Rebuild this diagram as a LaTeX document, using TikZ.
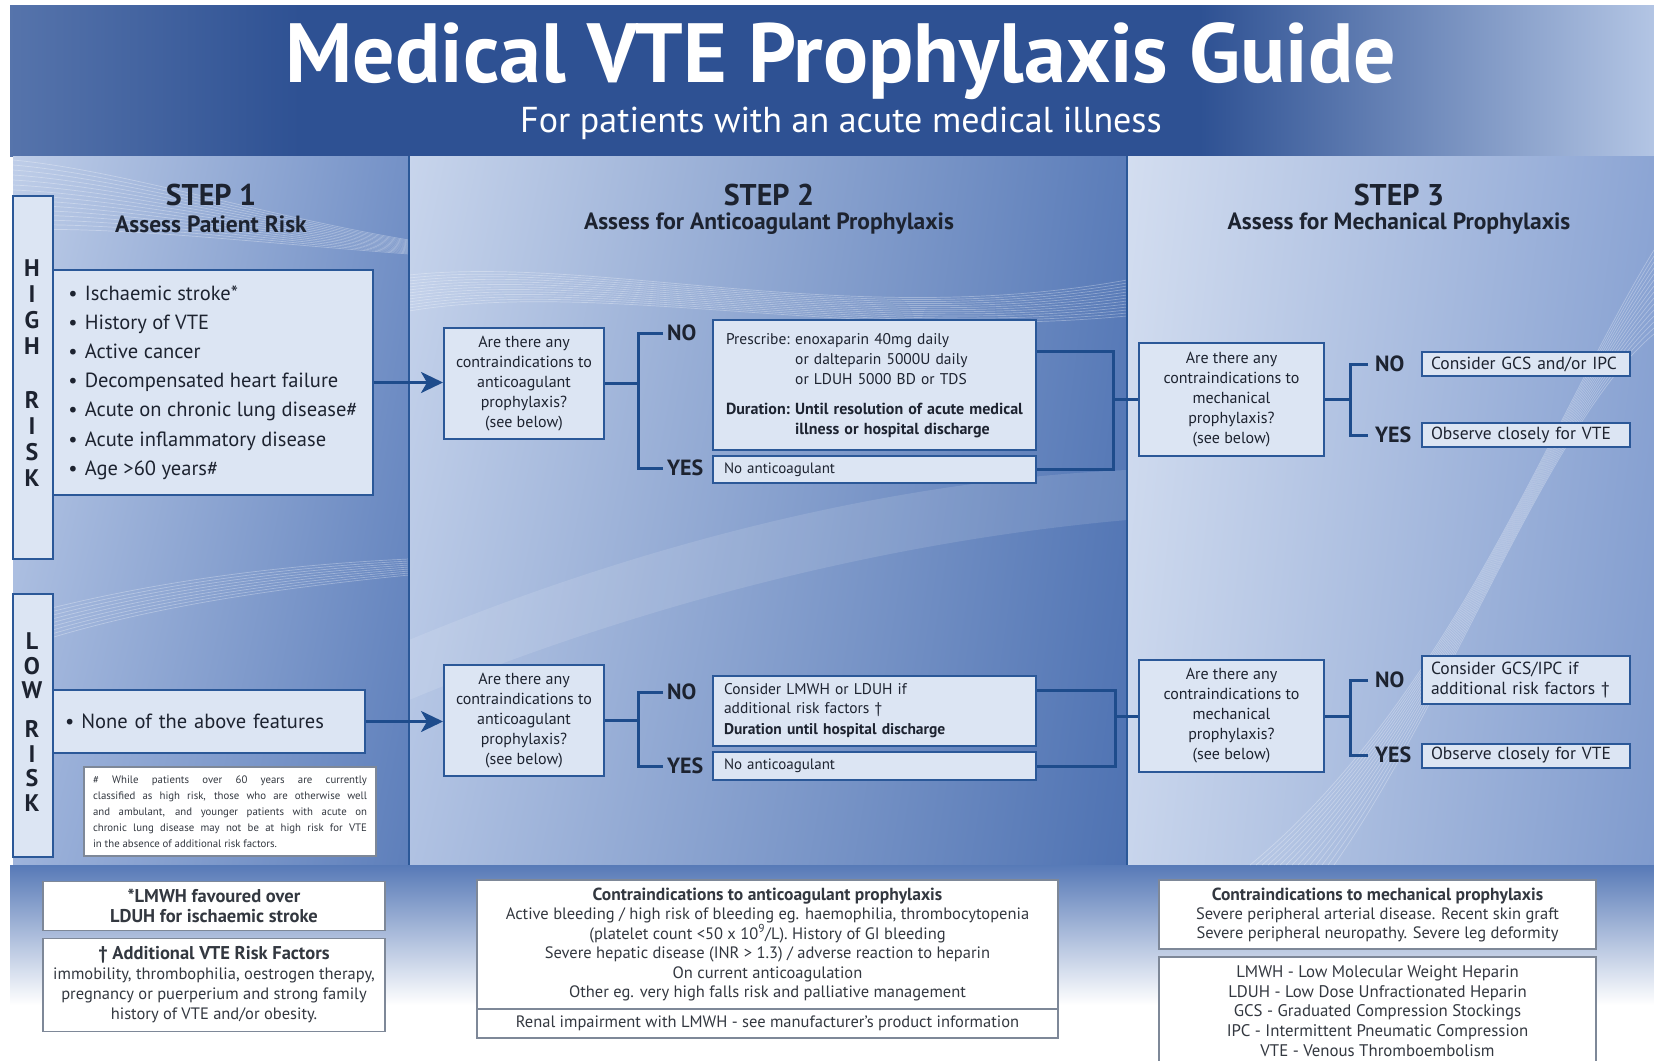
\documentclass[tikz,border=0pt]{standalone}
\usepackage{fontspec}
\setmainfont{PT Sans}
\usepackage{tikz}
\usetikzlibrary{arrows.meta,positioning,calc,shadings}

\definecolor{bannerblue}{HTML}{2E5193}
\definecolor{bannerlight}{HTML}{B3C5E4}
\definecolor{panlight}{HTML}{C8D5EC}
\definecolor{panmid}{HTML}{8CA5D4}
\definecolor{pandark}{HTML}{4E72B2}
\definecolor{boxfill}{HTML}{DCE5F3}
\definecolor{boxline}{HTML}{2B5898}
\definecolor{connblue}{HTML}{1E4C8C}
\definecolor{inktext}{HTML}{1D2330}
\definecolor{notetext}{HTML}{333840}
\definecolor{noteline}{HTML}{7E8898}

\newcommand\fsz[2]{\fontsize{#1}{#2}\selectfont}

\begin{document}
\begin{tikzpicture}[x=1pt,y=-1pt,
  stepbox/.style={draw=boxline,line width=2pt,fill=boxfill,text=inktext,inner sep=0pt,align=center},
  listbox/.style={stepbox,align=left,inner xsep=14pt},
  notebox/.style={draw=noteline,line width=1.5pt,fill=white,text=notetext,inner sep=0pt,align=center},
  riskbar/.style={draw=boxline,line width=2pt,fill=boxfill,inner sep=0pt},
  riskltr/.style={text=inktext,inner sep=0pt,align=center},
  conn/.style={draw=connblue,line width=3pt},
  arr/.style={conn,-{Stealth[length=22pt,width=21pt,inset=6pt]}},
  yn/.style={text=inktext,font=\bfseries\fsz{22}{24},inner xsep=4pt,inner ysep=0pt,anchor=west},
  hdr/.style={text=inktext,align=center,inner sep=0pt},
  wave/.style={white,line width=0.7pt,opacity=0.3}]
%Rahmen: Spalten und Zeilen des Plakats (in px des Vorbilds)
  \pgfmathsetmacro{\xA}{409}
  \pgfmathsetmacro{\xB}{1127}
  \pgfmathsetmacro{\yT}{156}
  \pgfmathsetmacro{\yB}{865}
\useasboundingbox (0,0) rectangle (1654,1060);
\fill[white] (0,0) rectangle (1654,1060);
% banner
\fill[bannerblue] (10,5) rectangle (1654,\yT);
\shade[left color=bannerblue!70!bannerlight,right color=bannerblue] (10,5) rectangle (300,\yT);
\shade[left color=bannerblue,right color=bannerlight] (1200,5) rectangle (1654,\yT);
% panels
\shade[upper left=panlight!85!panmid,upper right=panmid!60!pandark,lower left=panmid!70!panlight,lower right=pandark!75!panmid] (13,\yT) rectangle (\xA,\yB);
\shade[upper left=panlight,upper right=pandark!80!panmid,lower left=panlight!60!panmid,lower right=pandark] (\xA,\yT) rectangle (\xB,\yB);
\shade[upper left=panlight!80!white,upper right=panmid,lower left=panlight,lower right=panmid!80!pandark] (\xB,\yT) rectangle (1654,\yB);
\shade[top color=pandark!85!panmid,bottom color=white] (10,\yB) rectangle (1654,1005);
% swooshes
\begin{scope}
\clip (13,\yT) rectangle (1654,\yB);
\foreach \k in {0,...,14}
  \draw[wave] (13,160+5*\k) .. controls (120,170+4*\k) and (260,215+2*\k) .. (\xA,240+\k);
\foreach \k in {0,...,8}
  \draw[wave] (13,650-4*\k) .. controls (130,610-3*\k) and (260,590-3*\k) .. (\xA,575-2*\k);
\foreach \k in {0,...,12}
  \draw[wave] (\xA,275+3*\k) .. controls (600,255+2*\k) and (850,330+\k) .. (\xB,280+3*\k);
\fill[white,opacity=0.12] (\xA,640) .. controls (650,540) and (900,480) .. (\xB,470) -- (\xB,520) .. controls (900,540) and (650,600) .. (\xA,700) -- cycle;
\foreach \k in {0,...,14}
  \draw[wave] (1250+6*\k,\yB) .. controls (1450,700) and (1550,420) .. (1654,250+6*\k);
\end{scope}
\draw[boxline,line width=1.5pt] (\xA,\yT) -- (\xA,\yB) (\xB,\yT) -- (\xB,\yB);

% title
\node[text=white,inner sep=0pt,font=\bfseries\fsz{84}{90}] (title) at (841,61) {Medical VTE Prophylaxis Guide};
\node[text=white,inner sep=0pt,font=\fsz{36}{40}] (subtitle) at (841,123) {For patients with an acute medical illness};

% headers
\node[hdr,font=\bfseries\fsz{30}{32}] (s1) at (211,195) {STEP 1};
\node[hdr,font=\bfseries\fsz{23.5}{26}] (s1sub) at (211,224) {Assess Patient Risk};
\node[hdr,font=\bfseries\fsz{30}{32}] (s2) at (769,195) {STEP 2};
\node[hdr,font=\bfseries\fsz{23.5}{26}] (s2sub) at (769,224) {Assess for Anticoagulant Prophylaxis};
\node[hdr,font=\bfseries\fsz{30}{32}] (s3) at (1399,195) {STEP 3};
\node[hdr,font=\bfseries\fsz{23.5}{26}] (s3sub) at (1399,224) {Assess for Mechanical Prophylaxis};

% step 1
\node[riskbar,minimum width=40pt,minimum height=363pt] (hbar) at (33,377.5) {};
\node[riskltr,font=\bfseries\fsz{24}{26}] (hbarltr) at (32,373) {H\\I\\G\\H\\[28pt]R\\I\\S\\K};
\node[riskbar,minimum width=40pt,minimum height=263pt] (lbar) at (33,725.5) {};
\node[riskltr,font=\bfseries\fsz{24}{24.5}] (lbarltr) at (32,722) {L\\O\\W\\[14.5pt]R\\I\\S\\K};
\node[stepbox,align=left,minimum width=320pt,minimum height=225pt,font=\fsz{20.5}{29.2}] (hlist) at (213,382.5)
  {\textbullet\hspace{0.35em}Ischaemic stroke*\\ \textbullet\hspace{0.35em}History of VTE\\ \textbullet\hspace{0.35em}Active cancer\\
   \textbullet\hspace{0.35em}Decompensated heart failure\\ \textbullet\hspace{0.35em}Acute on chronic lung disease\#\\
   \textbullet\hspace{0.35em}Acute inflammatory disease\\ \textbullet\hspace{0.35em}Age >60 years\#};
\node[listbox,inner xsep=12pt,minimum width=312pt,minimum height=63pt,text width=288pt,font=\fsz{20.5}{29}] (lnone) at (209,721.5)
  {\textbullet\hspace{0.35em}None of the above features};
\node[notebox,minimum width=292pt,minimum height=89pt,text width=274pt,align=justify,font=\fsz{10.8}{16}] (agenote) at (230,811.5)
  {\# While patients over 60 years are currently\linebreak classified as high risk, those who are otherwise well\linebreak
   and ambulant, and younger patients with acute on\linebreak chronic lung disease may not be at high risk for VTE\linebreak
   in the absence of additional risk factors.};

% step 2
\node[stepbox,minimum width=160pt,minimum height=111pt,font=\fsz{16}{20}] (hq2) at (524,383.5)
  {Are there any\\contraindications to\\anticoagulant\\prophylaxis?\\(see below)};
\node[stepbox,minimum width=160pt,minimum height=111pt,font=\fsz{16}{20}] (lq2) at (524,720.5)
  {Are there any\\contraindications to\\anticoagulant\\prophylaxis?\\(see below)};
\node[listbox,inner xsep=13pt,minimum width=323pt,minimum height=130pt,text width=297pt,font=\fsz{15.5}{20}] (hrx2) at (874.5,385)
  {\begin{tabular}{@{}l@{\ }l@{}}Prescribe: & enoxaparin 40mg daily\\ & or dalteparin 5000U daily\\ & or LDUH 5000 BD or TDS\\[10pt]
   \fsz{16}{20}\bfseries Duration: & \fsz{16}{20}\bfseries Until resolution of acute medical\\ & \fsz{16}{20}\bfseries illness or hospital discharge\end{tabular}};
\node[listbox,inner xsep=11pt,minimum width=323pt,minimum height=27pt,text width=301pt,font=\fsz{15}{18}] (hnoac2) at (874.5,469.5)
  {No anticoagulant};
\node[listbox,inner xsep=11pt,minimum width=323pt,minimum height=70pt,text width=301pt,font=\fsz{15.5}{18.5}] (lcon2) at (874.5,711)
  {Consider LMWH or LDUH if\\additional risk factors \textdagger\\[3pt]\textbf{Duration until hospital discharge}};
\node[listbox,inner xsep=11pt,minimum width=323pt,minimum height=28pt,text width=301pt,font=\fsz{15}{18}] (lnoac2) at (874.5,766)
  {No anticoagulant};
\node[yn] (hno2l) at (663,333) {NO};
\node[yn] (hyes2l) at (663,468) {YES};
\node[yn] (lno2l) at (663,692) {NO};
\node[yn] (lyes2l) at (663,766) {YES};

% step 3
\node[stepbox,minimum width=185pt,minimum height=113pt,font=\fsz{16}{20}] (hq3) at (1231.5,399.5)
  {Are there any\\contraindications to\\mechanical\\prophylaxis?\\(see below)};
\node[stepbox,minimum width=185pt,minimum height=112pt,font=\fsz{16}{20}] (lq3) at (1231.5,716)
  {Are there any\\contraindications to\\mechanical\\prophylaxis?\\(see below)};
\node[listbox,inner xsep=9pt,minimum width=208pt,minimum height=24pt,text width=190pt,font=\fsz{17.5}{20}] (hno3) at (1526,364)
  {Consider GCS and/or IPC};
\node[listbox,inner xsep=9pt,minimum width=208pt,minimum height=24pt,text width=190pt,font=\fsz{17.5}{20}] (hyes3) at (1526,435)
  {Observe closely for VTE};
\node[listbox,inner xsep=9pt,minimum width=208pt,minimum height=48pt,text width=190pt,font=\fsz{17.5}{20}] (lno3) at (1526,680)
  {Consider GCS/IPC if\\additional risk factors \textdagger};
\node[listbox,inner xsep=9pt,minimum width=208pt,minimum height=24pt,text width=190pt,font=\fsz{17.5}{20}] (lyes3) at (1526,755.5)
  {Observe closely for VTE};
\node[yn,inner xsep=7pt] (hno3l) at (1368,364) {NO};
\node[yn,inner xsep=7pt] (hyes3l) at (1368,435) {YES};
\node[yn,inner xsep=7pt] (lno3l) at (1368,680) {NO};
\node[yn,inner xsep=7pt] (lyes3l) at (1368,755) {YES};

% connectors
\draw[arr] (hlist.east) -- (hlist.east -| hq2.west);
\draw[arr] (lnone.east) -- (lnone.east -| lq2.west);
\coordinate (hb2) at (638,383.5);
\coordinate (lb2) at (638,720.5);
\draw[conn] (hq2.east) -- (hb2);
\draw[conn] (hno2l.west) -| (hb2) |- (hyes2l.west);
\draw[conn] (lq2.east) -- (lb2);
\draw[conn] (lno2l.west) -| (lb2) |- (lyes2l.west);
\coordinate (hj2) at (1113,399.5);
\coordinate (lj2) at (1115,716);
\draw[conn] ([yshift=34pt]hrx2.east) -| (hj2) |- (hnoac2.east);
\draw[conn] (hj2) -- (hq3.west);
\draw[conn] ([yshift=21pt]lcon2.east) -| (lj2) |- (lnoac2.east);
\draw[conn] (lj2) -- (lq3.west);
\coordinate (hb3) at (1350,399.5);
\coordinate (lb3) at (1350,716);
\draw[conn] (hq3.east) -- (hb3);
\draw[conn] (hno3l.west) -| (hb3) |- (hyes3l.west);
\draw[conn] (lq3.east) -- (lb3);
\draw[conn] (lno3l.west) -| (lb3) |- (lyes3l.west);

% notes at the bottom
\node[notebox,minimum width=342pt,minimum height=49pt,font=\bfseries\fsz{18.5}{19.5}] (lmwhnote) at (214,906)
  {*LMWH favoured over\\LDUH for ischaemic stroke};
\node[notebox,minimum width=342pt,minimum height=93pt,font=\fsz{16.5}{20}] (riskfac) at (214,985)
  {{\bfseries\fsz{18.5}{20}\textdagger\ Additional VTE Risk Factors}\\immobility, thrombophilia, oestrogen therapy,\\pregnancy or puerperium and strong family\\history of VTE and/or obesity.};
\node[notebox,minimum width=581pt,minimum height=129pt,font=\fsz{16.5}{19.5}] (anticontra) at (767.5,944.5)
  {{\bfseries\fsz{17.5}{19.5}Contraindications to anticoagulant prophylaxis}\\Active bleeding / high risk of bleeding eg. haemophilia, thrombocytopenia\\
   (platelet count <50 x 10\textsuperscript{9}/L). History of GI bleeding\\Severe hepatic disease (INR > 1.3) / adverse reaction to heparin\\
   On current anticoagulation\\Other eg. very high falls risk and palliative management};
\node[notebox,minimum width=581pt,minimum height=29pt,font=\fsz{16.5}{19.5}] (renal) at (767.5,1023.5)
  {Renal impairment with LMWH - see manufacturer's product information};
\node[notebox,minimum width=437pt,minimum height=69pt,font=\fsz{16.5}{19}] (mechcontra) at (1377.5,914.5)
  {{\bfseries\fsz{17.5}{19}Contraindications to mechanical prophylaxis}\\Severe peripheral arterial disease. Recent skin graft\\Severe peripheral neuropathy. Severe leg deformity};
\node[notebox,minimum width=437pt,minimum height=108pt,font=\fsz{16.8}{19.7}] (abbrev) at (1377.5,1011)
  {LMWH - Low Molecular Weight Heparin\\LDUH - Low Dose Unfractionated Heparin\\GCS - Graduated Compression Stockings\\IPC - Intermittent Pneumatic Compression\\VTE - Venous Thromboembolism};
\end{tikzpicture}
\end{document}
